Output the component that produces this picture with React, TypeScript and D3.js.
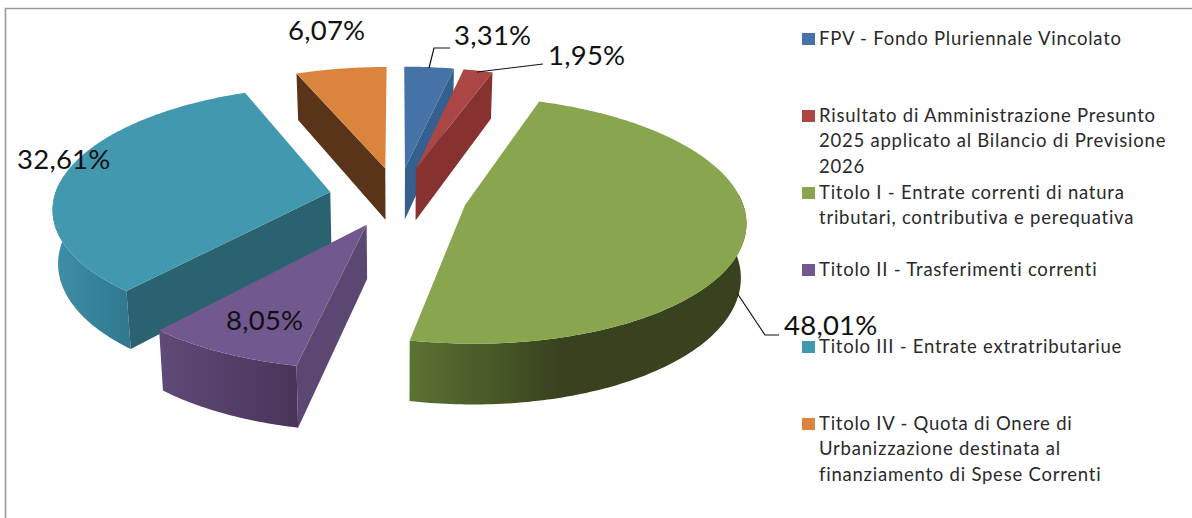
import React from "react";
import * as d3 from "d3";

const categories = [
  "FPV",
  "Risultato",
  "Titolo I",
  "Titolo II",
  "Titolo III",
  "Titolo IV",
];
const shares = [3.31, 1.95, 48.01, 8.05, 32.61, 6.07];
const legendLines = [
  ["FPV - Fondo Pluriennale Vincolato"],
  ["Risultato di Amministrazione Presunto", "2025 applicato al Bilancio di Previsione", "2026"],
  ["Titolo I - Entrate correnti di natura", "tributari, contributiva e perequativa"],
  ["Titolo II - Trasferimenti correnti"],
  ["Titolo III - Entrate extratributariue"],
  ["Titolo IV - Quota di Onere di", "Urbanizzazione destinata al", "finanziamento di Spese Correnti"],
];

const topColors = ["#4572a7", "#aa4643", "#89a54e", "#71588f", "#4198af", "#db843d"];
const edgeColors = ["#355f8f", "#873230", "#3a451f", "#5c4672", "#2a6270", "#5a3418"];
// outer wall shading, left to right
const wallLeft = ["#355f8f", "#873230", "#5c7232", "#5f4a78", "#3f8ea8", "#5a3418"];
const wallRight = ["#355f8f", "#873230", "#38421e", "#4a3459", "#2f788f", "#5a3418"];

// painter order, far slices first
const drawOrder = [5, 0, 1, 4, 2, 3];

// projection of the pie: unit disc seen in perspective
const cx = 398;
const cy = 197;
const rx = 276;
const ry = 120;
const persp = 0.12;
const explode = 0.25;
const depth = 53;
const converge = 0.016; // bottom face is a little narrower than the top

function project(X: number, Z: number, h = 0): [number, number] {
  const w = 1 + persp * Z;
  return [cx + ((rx * X) / w) * (1 - converge * h), cy - (ry * Z) / w + (h * depth) / w];
}

const pieGen = d3.pie<number>().sort(null).value((d) => d);
const arcs = pieGen(shares);
const line = d3.line();
const fmt = d3.formatLocale({
  decimal: ",",
  thousands: ".",
  grouping: [3],
  currency: ["", "€"],
}).format(".2f");

function sliceGeom(a: d3.PieArcDatum<number>) {
  const mid = (a.startAngle + a.endAngle) / 2;
  const ox = explode * Math.sin(mid);
  const oz = explode * Math.cos(mid);
  const at = (t: number, r: number, h = 0) =>
    project(ox + r * Math.sin(t), oz + r * Math.cos(t), h);
  const n = Math.max(4, Math.ceil((a.endAngle - a.startAngle) * 60));
  const angles = d3.range(n + 1).map((i) => a.startAngle + ((a.endAngle - a.startAngle) * i) / n);

  const top = line([at(0, 0), ...angles.map((t) => at(t, 1))]) + "Z";

  // outer wall only where it faces the viewer
  const front = angles.filter((t) => Math.cos(t) < 0.1);
  const wall = front.length > 1
    ? line([...front.map((t) => at(t, 1)), ...front.slice().reverse().map((t) => at(t, 1, 1))]) + "Z"
    : null;

  const radial = (t: number) =>
    line([at(t, 0), at(t, 1), at(t, 1, 1), at(t, 0, 1)]) + "Z";
  const sides: string[] = [];
  if (Math.cos(a.startAngle - Math.PI / 2) < -0.01) sides.push(radial(a.startAngle));
  if (Math.cos(a.endAngle + Math.PI / 2) < -0.01) sides.push(radial(a.endAngle));

  return { top, wall, sides };
}

// data label anchors, same order as shares
const labelX = [454, 548, 784, 226, 17, 288];
const labelY = [45, 65, 335, 330, 169, 40];

const leaders: [number, number][][] = [
  [[429, 68], [434, 48], [450, 48]],
  [[477, 72], [543, 64]],
  [[737, 293], [765, 335], [779, 335]],
];

const legendY = d3.scaleLinear().domain([0, 5]).range([45, 430]);
const lineStep = 25.3;
const font = "Lato, 'Open Sans', sans-serif";

export default function App() {
  const geoms = arcs.map(sliceGeom);
  return (
    <svg
      width={1192}
      height={518}
      style={{ position: "absolute", left: 0, top: 0, background: "#fff" }}
    >
      <defs>
        {categories.map((c, i) => (
          <linearGradient key={c} id={"wall" + i} x1="0" x2="1" y1="0" y2="0">
            <stop offset="0" stopColor={wallLeft[i]} />
            <stop offset={i === 2 ? 0.45 : 1} stopColor={wallRight[i]} />
            <stop offset="1" stopColor={wallRight[i]} />
          </linearGradient>
        ))}
      </defs>

      <path d="M1192,8.5H5.5V518" fill="none" stroke="#999" strokeWidth={1.6} />

      {drawOrder.map((i) => (
        <g key={categories[i]}>
          {geoms[i].wall && <path d={geoms[i].wall!} fill={`url(#wall${i})`} />}
          {geoms[i].sides.map((d, k) => (
            <path key={k} d={d} fill={edgeColors[i]} />
          ))}
          <path d={geoms[i].top} fill={topColors[i]} />
        </g>
      ))}

      {leaders.map((pts, i) => (
        <path key={i} d={line(pts)!} fill="none" stroke="#111" strokeWidth={1.2} />
      ))}

      {shares.map((v, i) => (
        <text
          key={categories[i]}
          x={labelX[i]}
          y={labelY[i]}
          fontFamily={font}
          fontSize={27.5}
          letterSpacing={0.25}
          fill="#111"
        >
          {fmt(v) + "%"}
        </text>
      ))}

      {legendLines.map((rows, i) => (
        <g key={categories[i]}>
          <rect x={802} y={legendY(i) - 12} width={13} height={12} fill={topColors[i]} />
          {rows.map((t, k) => (
            <text
              key={k}
              x={819}
              y={legendY(i) + k * lineStep}
              fontFamily={font}
              fontSize={18.5}
              letterSpacing={0.77}
              fill="#2a2a2a"
            >
              {t}
            </text>
          ))}
        </g>
      ))}
    </svg>
  );
}
